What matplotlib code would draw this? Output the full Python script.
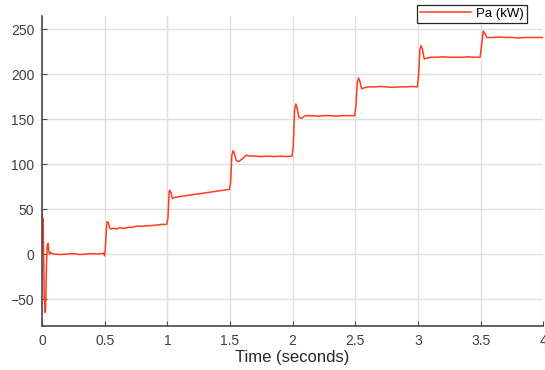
# Potência ativa Pa (kW) ao longo do tempo — degraus de carga
import matplotlib
matplotlib.use("Agg")
import matplotlib.pyplot as plt

# ------------------------------------------------------
# DADOS
# ------------------------------------------------------
time_s = [
    0.0, 0.002, 0.004, 0.006, 0.008, 0.010, 0.013, 0.018, 0.022, 0.026,
    0.030, 0.036, 0.042, 0.048, 0.055, 0.060, 0.070, 0.080, 0.10, 0.15,
    0.20, 0.25, 0.30, 0.35, 0.40, 0.45, 0.49, 0.50,
    0.505, 0.515, 0.52, 0.53, 0.54, 0.55, 0.57, 0.60, 0.62, 0.65, 0.70,
    0.72, 0.75, 0.80, 0.85, 0.90, 0.95, 0.995,
    1.005, 1.015, 1.02, 1.03, 1.04, 1.06, 1.10, 1.15, 1.20, 1.25, 1.30,
    1.35, 1.40, 1.45, 1.495,
    1.505, 1.515, 1.525, 1.535, 1.55, 1.57, 1.60, 1.63, 1.66, 1.70,
    1.75, 1.80, 1.85, 1.90, 1.95, 1.995,
    2.005, 2.015, 2.025, 2.035, 2.05, 2.07, 2.10, 2.15, 2.20, 2.25, 2.30,
    2.35, 2.40, 2.45, 2.495,
    2.505, 2.515, 2.525, 2.535, 2.55, 2.57, 2.60, 2.65, 2.70, 2.75, 2.80,
    2.85, 2.90, 2.95, 2.995,
    3.005, 3.015, 3.025, 3.035, 3.05, 3.07, 3.10, 3.15, 3.20, 3.25, 3.30,
    3.35, 3.40, 3.45, 3.495,
    3.505, 3.52, 3.53, 3.55, 3.60, 3.65, 3.70, 3.75, 3.80, 3.85, 3.90,
    3.95, 4.0,
]
pa_kw = [
    0, 48, 5, 40, 2, 35, 0, -50, -55, -65,
    -55, -10, 10, 12, 3, 0, 2, 0.5, 0, -0.5,
    0, 0.5, -0.5, 0, 0.5, 0, 1, -2,
    5, 30, 36, 35, 29, 28, 28.5, 28, 29.5, 28.5, 30,
    29.5, 31, 31, 31.5, 32, 33, 33,
    40, 70, 71, 68, 62, 63, 64, 65, 66, 67, 68,
    69, 70, 71, 72,
    80, 110, 115, 112, 104, 103, 106, 110, 109, 109,
    108.5, 109, 108.5, 109, 108.5, 109,
    120, 160, 167, 163, 152, 151, 154, 154, 153.5, 154, 154,
    153.5, 154, 154, 154,
    165, 190, 196, 193, 184, 185, 186, 186, 186.5, 186, 185.5,
    186, 186, 186.5, 186,
    200, 228, 232, 228, 217, 218, 219, 219, 219.5, 219, 219,
    219, 219.5, 219, 219,
    230, 248, 246, 241, 241, 241.5, 241, 241, 240.5, 241, 241,
    241, 241,
]

X_TICKS = [0, 0.5, 1, 1.5, 2, 2.5, 3, 3.5, 4]
X_TICK_LABELS = ["0", "0.5", "1", "1.5", "2", "2.5", "3", "3.5", "4"]
Y_TICKS = [-50, 0, 50, 100, 150, 200, 250]

# ------------------------------------------------------
# ESTILO
# ------------------------------------------------------
plt.rcParams["font.family"] = ["Liberation Sans", "DejaVu Sans"]

LINE_COLOR = "#ff3c1e"
AXIS_COLOR = "#4a4a4a"
TICK_COLOR = "#404040"
GRID_COLOR = "#e0e0e0"

fig = plt.figure(figsize=(5.45, 3.70), dpi=100)
ax = fig.add_axes([0.077, 0.119, 0.92, 0.838])

ax.plot(time_s, pa_kw, color=LINE_COLOR, linewidth=1.1, label="Pa (kW)")

ax.set_xlim(0, 4)
ax.set_ylim(-80, 265)
ax.set_xticks(X_TICKS)
ax.set_xticklabels(X_TICK_LABELS)
ax.set_yticks(Y_TICKS)

ax.grid(True, color=GRID_COLOR, linewidth=1.0)
ax.set_axisbelow(True)

for side in ["top", "right"]:
    ax.spines[side].set_visible(False)
for side in ["left", "bottom"]:
    ax.spines[side].set_color(AXIS_COLOR)
    ax.spines[side].set_linewidth(1.2)

ax.tick_params(direction="in", length=3.5, width=0.8, colors=AXIS_COLOR,
               labelcolor=TICK_COLOR, labelsize=10, pad=5.5)

ax.set_xlabel("Time (seconds)", fontsize=12, color="#262626", labelpad=2)

leg = fig.legend(loc="upper right", bbox_to_anchor=(0.967, 0.987),
                 fontsize=9.5, frameon=True, fancybox=False,
                 handlelength=3.9, borderpad=0.22, handletextpad=0.4,
                 borderaxespad=0)
leg.get_frame().set_edgecolor("#262626")
leg.get_frame().set_linewidth(0.9)
leg.get_frame().set_alpha(1.0)

plt.savefig("out.png", dpi=100)
plt.close()
